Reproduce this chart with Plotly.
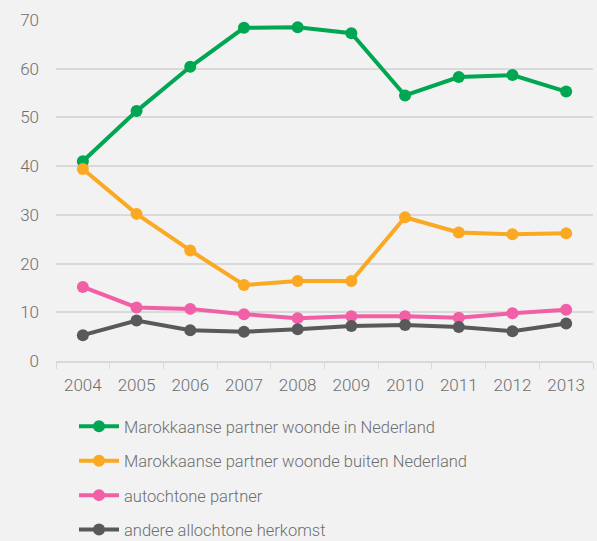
import plotly.graph_objects as go

years = [2004, 2005, 2006, 2007, 2008, 2009, 2010, 2011, 2012, 2013]
marok_in_nl = [41.0, 51.3, 60.4, 68.4, 68.5, 67.3, 54.5, 58.3, 58.7, 55.3]
marok_buiten_nl = [39.4, 30.2, 22.7, 15.6, 16.4, 16.4, 29.5, 26.4, 26.0, 26.2]
autochtoon = [15.2, 11.0, 10.7, 9.6, 8.8, 9.2, 9.2, 8.9, 9.8, 10.5]
andere = [5.3, 8.3, 6.3, 6.0, 6.5, 7.2, 7.4, 7.0, 6.1, 7.7]

series = [
    ("Marokkaanse partner woonde in Nederland", marok_in_nl, "#00A651"),
    ("Marokkaanse partner woonde buiten Nederland", marok_buiten_nl, "#FBA823"),
    ("autochtone partner", autochtoon, "#F15FA6"),
    ("andere allochtone herkomst", andere, "#58595B"),
]

fig = go.Figure()
for i, (name, vals, col) in enumerate(series):
    fig.add_trace(go.Scatter(
        x=years, y=vals, name=name, mode="lines+markers",
        line=dict(color=col, width=4),
        marker=dict(color=col, size=12),
        legendgroup=str(i),
    ))

fig.update_layout(
    width=597, height=541,
    paper_bgcolor="#F2F2F2", plot_bgcolor="#F2F2F2",
    margin=dict(l=56, r=4, t=20, b=180, autoexpand=False),
    font=dict(family="Roboto", size=17, color="#6E6E6E", weight=300),
    showlegend=True,
    legend=dict(
        orientation="v", y=-(409 - 361) / 341, yanchor="top",
        x=(74 - 56) / 537, xanchor="left",
        font=dict(size=16.5, color="#6E6E6E", family="Roboto", weight=300),
        tracegroupgap=10, bgcolor="rgba(0,0,0,0)",
        itemwidth=40,
    ),
    xaxis=dict(
        range=[2003.5, 2013.5], tickmode="array", tickvals=years,
        ticktext=[str(y) for y in years], ticks="", showgrid=False,
        showline=True, linecolor="#D9D9D9", linewidth=1.5,
        tickangle=0, ticklabelstandoff=8,
        minor=dict(tickmode="linear", tick0=2003.5, dtick=1, ticks="outside",
                   ticklen=6, tickcolor="#D9D9D9", showgrid=False),
        zeroline=False, fixedrange=True,
    ),
    yaxis=dict(
        range=[0, 70], tickvals=[0, 10, 20, 30, 40, 50, 60, 70],
        showgrid=True, gridcolor="#D9D9D9", gridwidth=1.5,
        zeroline=False, showline=False, ticks="",
        ticklabelstandoff=16,
    ),
)

fig.write_html("out.html", config={"displayModeBar": False},
               post_script="document.body.style.margin='0';")
